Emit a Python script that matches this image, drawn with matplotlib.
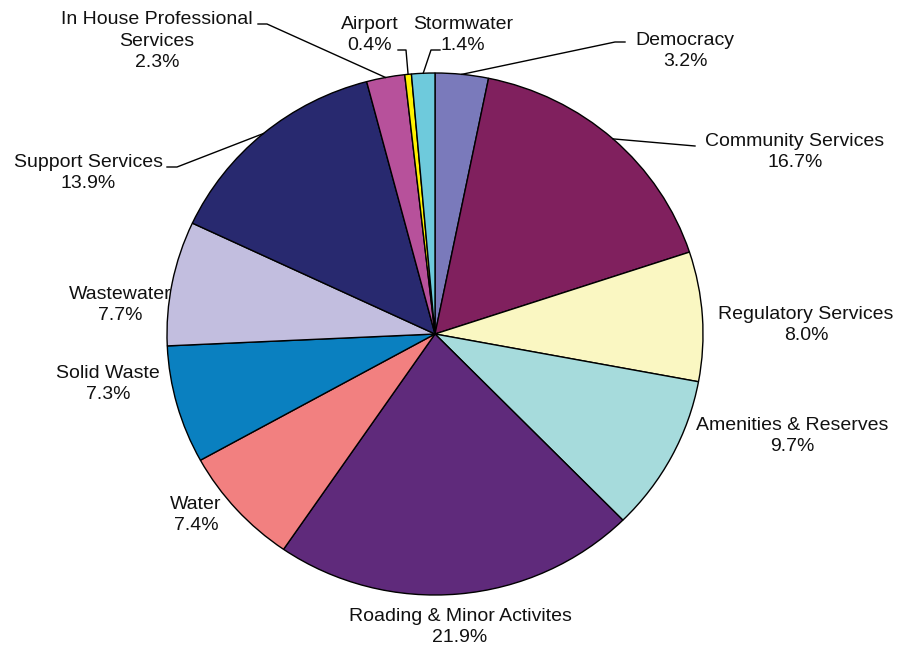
import matplotlib.pyplot as plt
import numpy as np

plt.rcParams['font.family'] = ['Liberation Sans', 'DejaVu Sans']

labels = ["Democracy", "Community Services", "Regulatory Services", "Amenities & Reserves",
          "Roading & Minor Activites", "Water", "Solid Waste", "Wastewater",
          "Support Services", "In House Professional\nServices", "Airport", "Stormwater"]
shares = [3.2, 16.7, 8.0, 9.7, 21.9, 7.4, 7.3, 7.7, 13.9, 2.3, 0.4, 1.4]

colors = ["#7a7abb", "#80205e", "#faf7c2", "#a6dbdc", "#5f2a7b", "#f28080",
          "#0a80c0", "#c2bedf", "#28296f", "#b7519b", "#fff200", "#6ecadc"]

# pie geometry in pixels (image is a bit wider than tall)
CX, CY, RX, RY = 435.0, 334.0, 268.0, 261.0
W, H = 897, 648


def px(x, y):
    return (x - CX) / RX, (CY - y) / RY


# label block centres (pixels)
label_pos = [(685, 51), (795, 152), (806, 325), (792, 436), (460, 627), (196, 515),
             (108, 384), (120, 305), (88, 173), (157, 41), (370, 35), (463, 35)]

# leader lines: pixel points after the wedge edge, None for no leader
leaders = [[(615, 42), (625, 42)], [(695, 146)], None, None, None, None, None, None,
           [(177, 167), (167, 167)], [(267, 24), (258, 24)],
           [(406, 50), (398, 50)], [(431, 50), (440, 50)]]

fig = plt.figure(figsize=(W / 100, H / 100), dpi=100)
ax = fig.add_axes([0, 0, 1, 1])

wedges, _ = ax.pie(shares, colors=colors, startangle=90, counterclock=False, radius=1,
                   wedgeprops=dict(edgecolor="black", linewidth=1.0))
ax.set_aspect("auto")
ax.set_xlim(px(0, 0)[0], px(W, 0)[0])
ax.set_ylim(px(0, H)[1], px(0, 0)[1])
ax.axis("off")

for w, name, val, pos, lead in zip(wedges, labels, shares, label_pos, leaders):
    tx, ty = px(*pos)
    ax.text(tx, ty, "%s\n%.1f%%" % (name, val), ha="center", va="center",
            fontsize=14, color="#111111", linespacing=1.36, multialignment="center")
    if lead:
        mid = np.deg2rad((w.theta1 + w.theta2) / 2)
        xs = [np.cos(mid)] + [px(*p)[0] for p in lead]
        ys = [np.sin(mid)] + [px(*p)[1] for p in lead]
        ax.plot(xs, ys, color="black", linewidth=1.0)

fig.savefig("out.png", dpi=100)
